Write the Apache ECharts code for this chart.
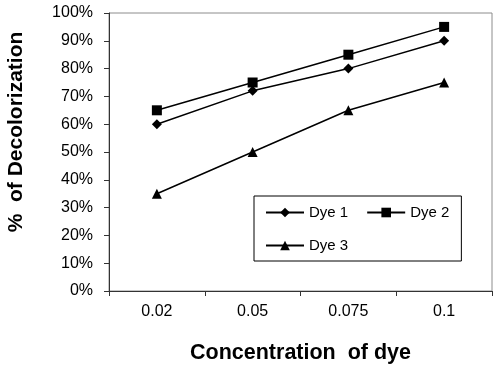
<!DOCTYPE html>
<html>
<head>
<meta charset="utf-8">
<script src="https://cdn.jsdelivr.net/npm/echarts@6/dist/echarts.min.js"></script>
<style>
  html, body { margin: 0; padding: 0; background: #fff; }
  #chart { width: 500px; height: 367px; }
</style>
</head>
<body>
<div id="chart"></div>
<script>
const categories = ['0.02', '0.05', '0.075', '0.1'];
const dye1 = [0.60, 0.72, 0.80, 0.90];
const dye2 = [0.65, 0.75, 0.85, 0.95];
const dye3 = [0.35, 0.50, 0.65, 0.75];

const font = 'Liberation Sans, Arial, sans-serif';
const chart = echarts.init(document.getElementById('chart'));

const makeSeries = (name, data, symbol, size) => ({
  name,
  type: 'line',
  data,
  symbol,
  symbolSize: size,
  showSymbol: true,
  itemStyle: { color: '#000' },
  lineStyle: { color: '#000', width: 1.5 },
  emphasis: { disabled: true },
  animation: false
});

chart.setOption({
  animation: false,
  textStyle: { fontFamily: font },
  grid: {
    left: 109,
    right: 8,
    top: 13,
    bottom: 76,
    containLabel: false,
    outerBoundsMode: 'none',
    show: true,
    borderColor: '#8c8c8c',
    borderWidth: 1
  },
  legend: {
    left: 254,
    top: 196,
    width: 195,
    orient: 'horizontal',
    itemWidth: 38,
    itemHeight: 12,
    itemGap: 18,
    padding: [9, 12, 8, 11],
    borderColor: '#000',
    borderWidth: 1,
    textStyle: { fontSize: 15, color: '#000', fontFamily: font },
    data: ['Dye 1', 'Dye 2', 'Dye 3']
  },
  xAxis: {
    type: 'category',
    data: categories,
    boundaryGap: true,
    name: 'Concentration  of dye',
    nameLocation: 'middle',
    nameGap: 51,
    nameTextStyle: { fontSize: 21.5, fontWeight: 'bold', color: '#000', fontFamily: font },
    axisLine: { lineStyle: { color: '#333', width: 1 } },
    axisTick: { show: true, length: 5, alignWithLabel: false, lineStyle: { color: '#333' } },
    axisLabel: { fontSize: 16, color: '#000', margin: 13, fontFamily: font },
    splitLine: { show: false }
  },
  yAxis: {
    type: 'value',
    min: 0,
    max: 1,
    interval: 0.1,
    name: '%  of Decolorization',
    nameLocation: 'middle',
    nameGap: 82,
    nameRotate: 90,
    nameTextStyle: {
      fontSize: 21,
      fontWeight: 'bold',
      color: '#000',
      fontFamily: font,
      padding: [0, 0, 0, 40]
    },
    axisLine: { show: true, lineStyle: { color: '#333', width: 1 } },
    axisTick: { show: true, length: 5, lineStyle: { color: '#333' } },
    axisLabel: {
      fontSize: 16,
      color: '#000',
      margin: 16,
      fontFamily: font,
      formatter: v => Math.round(v * 100) + '%'
    },
    splitLine: { show: false }
  },
  series: [
    makeSeries('Dye 1', dye1, 'diamond', 10),
    makeSeries('Dye 2', dye2, 'rect', 10),
    makeSeries('Dye 3', dye3, 'triangle', 10)
  ]
});
</script>
</body>
</html>
